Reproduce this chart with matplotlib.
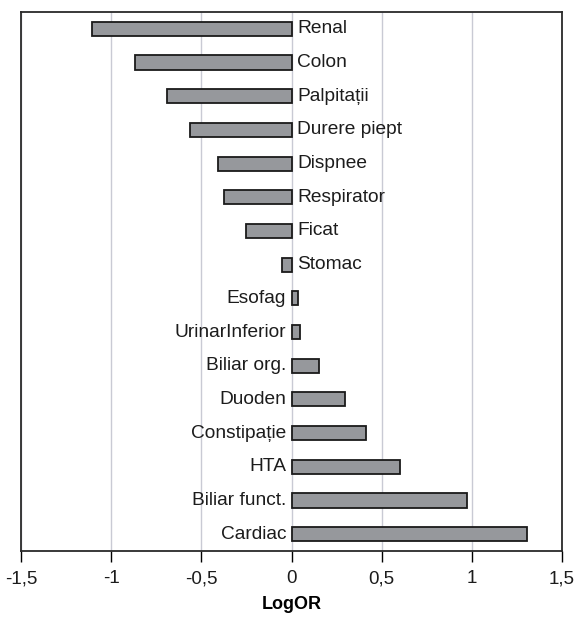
import numpy as np
import matplotlib
matplotlib.use('Agg')
import matplotlib.pyplot as plt

plt.rcParams['font.family'] = ['Liberation Sans', 'DejaVu Sans']

# categories top to bottom, with their LogOR values
categories = ['Renal', 'Colon', 'Palpitații', 'Durere piept', 'Dispnee',
              'Respirator', 'Ficat', 'Stomac', 'Esofag', 'UrinarInferior',
              'Biliar org.', 'Duoden', 'Constipație', 'HTA', 'Biliar funct.',
              'Cardiac']
log_or = [-1.107, -0.867, -0.693, -0.563, -0.409, -0.374, -0.252, -0.054,
          0.037, 0.046, 0.15, 0.298, 0.411, 0.60, 0.974, 1.304]

xticks = [-1.5, -1, -0.5, 0, 0.5, 1, 1.5]
xticklabels = ['-1,5', '-1', '-0,5', '0', '0,5', '1', '1,5']

fig = plt.figure(figsize=(5.79, 6.23), dpi=100)
ax = fig.add_axes([21 / 579, 72 / 623, 541 / 579, 539 / 623])

y = np.arange(len(categories))
ax.barh(y, log_or, height=0.42, color='#96989c', edgecolor='#1a1a1a',
        linewidth=1.3, zorder=3)

# labels sit on the side of zero opposite the bar
for yi, name, v in zip(y, categories, log_or):
    if v < 0:
        ax.text(0.03, yi, name, ha='left', va='center', fontsize=13.8,
                color='#1c1c1c', zorder=4)
    else:
        ax.text(-0.03, yi, name, ha='right', va='center', fontsize=13.8,
                color='#1c1c1c', zorder=4)

ax.set_xlim(-1.5, 1.5)
ax.set_ylim(len(categories) - 0.5, -0.5)
ax.set_yticks([])
ax.set_xticks(xticks)
ax.set_xticklabels(xticklabels, fontsize=13.5, color='#1c1c1c')
ax.tick_params(axis='x', direction='out', length=8, width=1, pad=6)
ax.xaxis.grid(True, color='#c9cad4', linewidth=1, zorder=0)
ax.set_axisbelow(True)
for s in ax.spines.values():
    s.set_color('#2a2a2a')
    s.set_linewidth(1.3)

ax.set_xlabel('LogOR', fontsize=13, fontweight='bold', labelpad=6)

fig.savefig('out.png', dpi=100)
